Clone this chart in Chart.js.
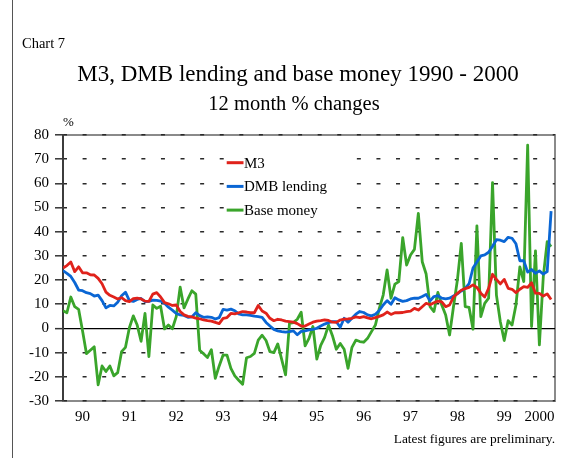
<!DOCTYPE html>
<html>
<head>
<meta charset="utf-8">
<script src="https://cdn.jsdelivr.net/npm/chart.js@4.4.1/dist/chart.umd.min.js"></script>
<style>
html,body{margin:0;padding:0;background:#fff;}
#wrap{position:relative;width:566px;height:458px;overflow:hidden;font-family:"Liberation Serif","Times New Roman",serif;color:#000;}
#c{position:absolute;left:0;top:0;}
.t{position:absolute;white-space:nowrap;line-height:1;}
#frame{position:absolute;left:12px;top:0;width:0;height:458px;border-left:1px solid #555;}
</style>
</head>
<body>
<div id="wrap">
<canvas id="c" width="566" height="458"></canvas>
<div id="frame"></div>
<div class="t" style="left:22px;top:35.9px;font-size:14.5px">Chart 7</div>
<div class="t" style="left:0;width:596px;text-align:center;top:62.2px;font-size:23px">M3, DMB lending and base money 1990 - 2000</div>
<div class="t" style="left:0;width:588px;text-align:center;top:92.8px;font-size:20.5px">12 month % changes</div>
<div class="t" style="left:63px;top:115.1px;font-size:13px">%</div>
<div class="t" style="right:11px;top:431.8px;font-size:13.4px">Latest figures are preliminary.</div>
</div>
<script>
// Monthly observations, January 1990 to June 2000 (12 month % changes)
const startYear = 1990;
const yearLabels = ['90','91','92','93','94','95','96','97','98','99','2000'];
const yearTickMonths = [5,17,29,41,53,65,77,89,101,113,122];

const m3 = [
 25,26,27.5,23.5,25.5,23,23,22.2,22.1,20.7,
 18.5,15,13.7,13,12.2,12.7,11.5,11.1,12.3,12.5,
 12.2,11.3,11.2,14.2,14.8,13,10.7,10.2,9.5,9.7,
 7,5.6,5,4.8,4.3,4,3.5,3.2,3,2.5,
 2,4.2,4.5,6.2,6,6.5,7,6.8,6.5,6.5,
 9.5,7.2,6.3,4.2,3.2,3.8,3.5,3,2.8,2.6,
 2,1,1,1.8,2.6,3,3.2,3.5,3.3,2.6,
 2.5,3.5,3.9,4,4.2,4.8,4.5,4.9,4.4,4,
 4.5,5,5.6,6.8,5.8,6.5,6.5,6.6,7,7.2,
 8.3,7.6,9,10.4,9.8,10.6,11.3,11,9,9.7,
 13,14.5,15.8,16.5,17,18,17,14.6,13,16.6,
 22.4,20.3,18.4,20.3,16.6,16.2,14.8,16.2,17.3,17,
 18.9,14.6,14.5,13.4,14.3,12
];
const dmbLending = [
 23.9,22.8,21.5,19,15.9,15.6,14.8,14.4,13.4,13.8,
 11.5,8.5,9.5,9.3,10.8,13.5,15,11.5,11.2,12,
 12.4,11.1,11.2,11.7,11.6,11.3,10.4,8.8,7.6,6.2,
 5.6,5.4,4.6,4.8,6.5,5.3,4.6,4.8,4.6,3.9,
 4.5,7.9,7.6,8,7.3,6,5.6,5.6,5.4,5.1,
 4.9,4.6,2.5,1,-0.4,-1,-1.3,-1.5,-1.3,-1,
 -2.6,-1.2,-1,-0.6,-0.4,0.1,1,1.8,2.4,2.8,
 2.8,0.5,4.2,2.6,4.2,5.9,7,6.6,5.6,5.2,
 5.9,7.4,9.7,11.5,10,12.7,11.8,11.2,11.5,12.2,
 12.5,12.5,13.2,14.1,11.4,13.2,13.6,12.5,12.2,12.5,
 13.4,14.3,15.5,16.6,18.5,25,27.5,30,30.4,31.5,
 34,36.7,36.5,35.9,37.7,37.3,35,28,28,23.3,
 24.4,22.8,23.8,22.5,23.5,48.5
];
const baseMoney = [
 7.3,6.5,13,9,7.9,-1,-10.4,-9,-7.6,-23.3,
 -15.5,-17.8,-15.5,-19.6,-18.3,-9.6,-7.8,0.3,5.2,1.4,
 -5.3,6.2,-11.6,9.7,8.3,9.2,-0.2,1.4,-0.1,4.9,
 17.1,8.5,12.2,15.6,14.2,-9,-10.5,-12,-8.8,-20.6,
 -15.5,-11,-11,-16.5,-19.6,-21.4,-23.1,-12.1,-11.6,-10.3,
 -4.8,-2.8,-5,-9.6,-10,-6.4,-12.8,-19.2,2.1,2.4,
 3.8,6.7,-7.2,-4.1,0.8,-12.7,-7,-3.7,1.4,-3,
 -8.6,-6.2,-8.6,-16.5,-7.8,-4.8,-5.4,-5.7,-4.1,-1.3,
 1.4,8.3,13.8,24.2,12.5,18.3,19.4,37.6,26.2,30.4,
 32.7,47.6,27.6,22.5,9,7,14.9,9.7,5.6,-2.7,
 9,20,35.2,9,8.7,-0.3,42.4,4.9,10.4,12.5,
 60.3,13.8,2.8,-5,3.2,1.4,9.7,25.5,19.4,75.8,
 0.8,32.1,-6.8,21.4,35.9,33.8
];

const months = m3.map((_, i) => `${startYear + Math.floor(i / 12)}-${String(i % 12 + 1).padStart(2, '0')}`);
const toPoints = arr => arr.map((v, i) => ({x: i, y: v}));

Chart.defaults.font.family = '"Liberation Serif","Times New Roman",serif';
Chart.defaults.color = '#000';

const DASH = [4, 15.59];
const FRAME = '#8a8a8a';

const legendBox = {
  id: 'legendBox',
  afterDatasetsDraw(chart) {
    const {ctx, chartArea: a} = chart;
    ctx.save();
    ctx.fillStyle = '#fff';
    ctx.fillRect(a.left + 161, a.top + 15, 126, 72);
    ctx.font = '15px "Liberation Serif"';
    ctx.textBaseline = 'middle';
    ctx.textAlign = 'left';
    chart.data.datasets.forEach((ds, k) => {
      const y = a.top + 27.7 + k * 23.7;
      ctx.strokeStyle = ds.borderColor;
      ctx.lineWidth = 3;
      ctx.beginPath();
      ctx.moveTo(a.left + 163.7, y);
      ctx.lineTo(a.left + 180.5, y);
      ctx.stroke();
      ctx.fillStyle = '#000';
      ctx.fillText(ds.label, a.left + 181, y + 1);
    });
    ctx.restore();
  }
};

const hiddenFrameAxis = (position, min, max, horizontal) => ({
  type: 'linear', min, max, position,
  afterFit(s) { if (horizontal) s.height = 0; else s.width = 0; },
  ticks: {display: false},
  grid: {display: false, drawTicks: false},
  border: {display: true, color: FRAME, width: 2, z: -1}
});

new Chart(document.getElementById('c'), {
  type: 'line',
  data: {
    labels: months,
    datasets: [
      {label: 'M3', data: toPoints(m3), borderColor: '#e0221b'},
      {label: 'DMB lending', data: toPoints(dmbLending), borderColor: '#0a66d4'},
      {label: 'Base money', data: toPoints(baseMoney), borderColor: '#3aa52b'}
    ].map(d => Object.assign(d, {borderWidth: 2.8, pointRadius: 0, tension: 0, fill: false, borderJoinStyle: 'round'}))
  },
  options: {
    responsive: false,
    animation: false,
    devicePixelRatio: 1,
    layout: {padding: {left: 0, right: 11, top: 135, bottom: 0}},
    plugins: {legend: {display: false}, tooltip: {enabled: false}, title: {display: false}},
    scales: {
      x: {
        type: 'linear', min: 0, max: 126, position: 'bottom',
        afterFit(s) { s.height = 57; },
        afterBuildTicks(s) { s.ticks = yearTickMonths.map(v => ({value: v})); },
        ticks: {autoSkip: false, maxRotation: 0, padding: 7, color: '#000', font: {size: 15},
                callback: (v, i) => yearLabels[i]},
        grid: {display: false, drawTicks: false},
        border: {display: true, color: FRAME, width: 2, z: -1}
      },
      xt: hiddenFrameAxis('top', 0, 126, true),
      yr: hiddenFrameAxis('right', -30, 80, false),
      y: {
        type: 'linear', min: -30, max: 80, position: 'left',
        afterFit(s) { s.width = 63; },
        ticks: {stepSize: 10, padding: 6, color: '#000', font: {size: 15}},
        grid: {
          color: c => (c.tick && c.tick.value === 0) ? '#000' : '#2a2a2a',
          lineWidth: c => (c.tick && c.tick.value === 0) ? 1.3 : 1.6,
          tickColor: '#333', tickLength: 8, tickWidth: 1.5, z: -1
        },
        border: {
          color: '#3c3c3c', width: 2,
          dash: c => (c.tick && c.tick.value === 0) ? [] : DASH,
          dashOffset: 1
        }
      }
    }
  },
  plugins: [legendBox]
});
</script>
</body>
</html>
